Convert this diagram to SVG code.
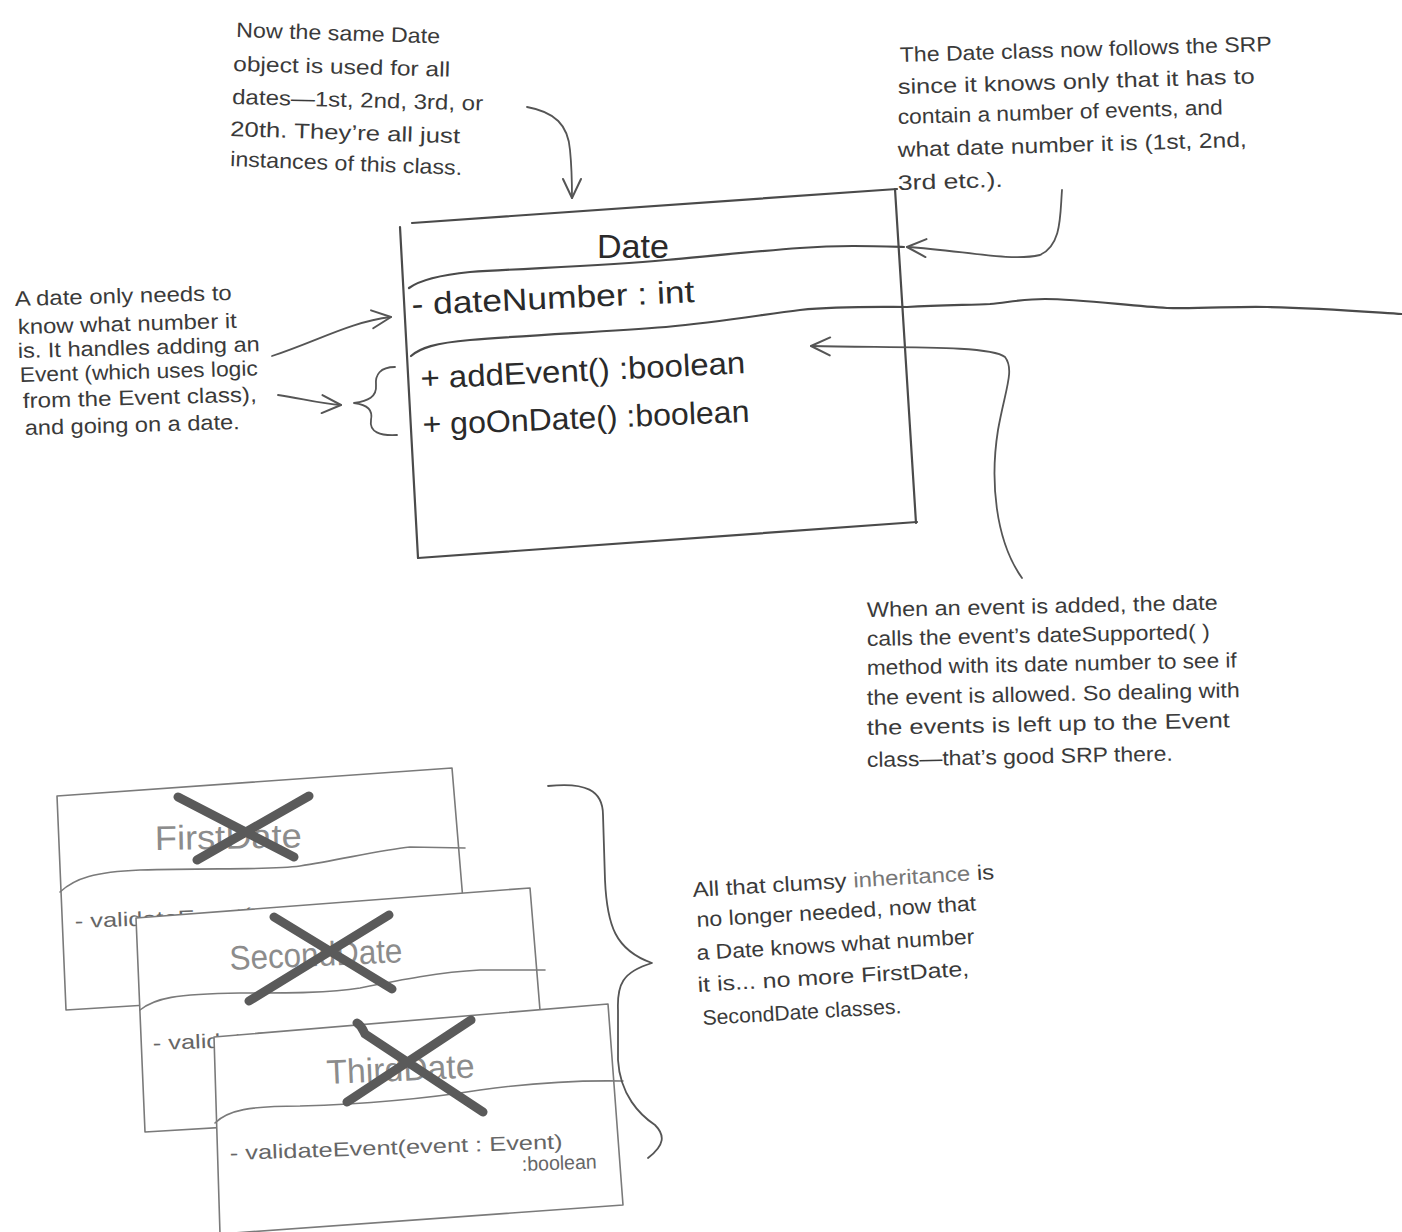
<svg xmlns="http://www.w3.org/2000/svg" width="1402" height="1232" viewBox="0 0 1402 1232">
<style>
text { font-family: "Liberation Sans", Arial, sans-serif; fill: #333; }
.note { font-size: 21px; fill: #3a3a3a; }
.member { font-size: 31px; fill: #2a2a2a; }
.title { font-size: 34px; fill: #2a2a2a; }
.line { fill: none; stroke: #4a4a4a; stroke-width: 2.2; stroke-linecap: round; stroke-linejoin: round; }
.old { fill: #fff; stroke: #7a7a7a; stroke-width: 1.6; stroke-linejoin: round; }
.oldline { fill: none; stroke: #7a7a7a; stroke-width: 1.6; stroke-linecap: round; }
.oldname { font-size: 34px; fill: #8c8c8c; }
.oldmember { font-size: 20px; fill: #666; }
.cross { fill: none; stroke: #5a5a5a; stroke-width: 9; stroke-linecap: round; }
.conn { fill: none; stroke: #555; stroke-width: 1.8; stroke-linecap: round; stroke-linejoin: round; }
</style>
<defs>
<marker id="vee" markerUnits="userSpaceOnUse" viewBox="0 0 24 24" refX="22" refY="12" markerWidth="24" markerHeight="24" orient="auto">
<path d="M3,3 L22,12 L3,21" fill="none" stroke="#555" stroke-width="2" stroke-linecap="round" stroke-linejoin="round"/>
</marker>
</defs>
<rect x="0" y="0" width="1402" height="1232" fill="#ffffff"/>

<g id="date-class">
<path class="line" d="M400,227 L418,558"/>
<path class="line" d="M412,223 L897,189"/>
<path class="line" d="M895,189 L916,523"/>
<path class="line" d="M418,558 L917,522"/>
<path class="line" d="M409,288 C420,280 440,275 470,272 C530,268 600,266 666,260 C720,255 760,251 800,248 C840,245 870,246 904,247"/>
<path class="line" d="M411,356 C420,348 435,343 470,340 C530,335 600,332 666,327 C720,322 760,315 800,310 C840,306 880,307 907,307"/>
<text class="title" x="597" y="258" textLength="72" lengthAdjust="spacingAndGlyphs">Date</text>
<text class="member" x="412" y="315" transform="rotate(-2.6 412 315)" textLength="283" lengthAdjust="spacingAndGlyphs">- dateNumber : int</text>
<text class="member" x="421" y="389" transform="rotate(-2.8 421 389)" textLength="325" lengthAdjust="spacingAndGlyphs">+ addEvent() :boolean</text>
<text class="member" x="423" y="435" transform="rotate(-2.3 423 435)" textLength="327" lengthAdjust="spacingAndGlyphs">+ goOnDate() :boolean</text>
</g>

<g id="first-date">
<polygon class="old" points="57,796 452,768 470,985 66,1010"/>
<path class="oldline" d="M60,892 C75,878 95,872 140,870 C220,868 270,870 300,866 C340,860 380,850 410,847 L465,848"/>
<text class="oldname" x="155" y="850" transform="rotate(-1 155 850)" textLength="147" lengthAdjust="spacingAndGlyphs">FirstDate</text>
<text class="oldmember" x="75" y="928" transform="rotate(-2 75 928)" textLength="333" lengthAdjust="spacingAndGlyphs">- validateEvent(event : Event)</text>
<path class="cross" d="M178,797 L294,857 M309,796 L197,860"/>
</g>

<g id="second-date">
<polygon class="old" points="136,918 530,888 548,1108 145,1132"/>
<path class="oldline" d="M140,1010 C155,998 175,994 240,993 C290,993 330,993 360,988 C400,980 440,972 480,970 L545,970"/>
<text class="oldname" x="230" y="970" transform="rotate(-2.6 230 970)" textLength="173" lengthAdjust="spacingAndGlyphs">SecondDate</text>
<text class="oldmember" x="153" y="1050" transform="rotate(-2 153 1050)" textLength="333" lengthAdjust="spacingAndGlyphs">- validateEvent(event : Event)</text>
<path class="cross" d="M274,917 L392,989 M389,915 L249,1001"/>
</g>

<g id="third-date">
<polygon class="old" points="214,1037 608,1004 623,1205 220,1234"/>
<path class="oldline" d="M215,1123 C228,1110 250,1106 300,1106 C370,1104 430,1098 480,1090 C530,1083 570,1080 623,1081"/>
<text class="oldname" x="327" y="1084" transform="rotate(-2.5 327 1084)" textLength="148" lengthAdjust="spacingAndGlyphs">ThirdDate</text>
<text class="oldmember" x="230" y="1160" transform="rotate(-2 230 1160)" textLength="333" lengthAdjust="spacingAndGlyphs">- validateEvent(event : Event)</text>
<text class="oldmember" x="522" y="1171" transform="rotate(-2 522 1171)" textLength="75" lengthAdjust="spacingAndGlyphs">:boolean</text>
<path class="cross" d="M357,1023 C362,1026 363,1030 365,1034 L483,1112 M471,1020 L347,1102"/>
</g>

<g id="note-same-object">
<text class="note" x="236" y="37" transform="rotate(1.8 236 37)" textLength="204" lengthAdjust="spacingAndGlyphs">Now the same Date</text>
<text class="note" x="233" y="71" transform="rotate(1.5 233 71)" textLength="217" lengthAdjust="spacingAndGlyphs">object is used for all</text>
<text class="note" x="232" y="104" transform="rotate(1.5 232 104)" textLength="251" lengthAdjust="spacingAndGlyphs">dates—1st, 2nd, 3rd, or</text>
<text class="note" x="230" y="136" transform="rotate(1.8 230 136)" textLength="230" lengthAdjust="spacingAndGlyphs">20th. They’re all just</text>
<text class="note" x="230" y="166" transform="rotate(2.2 230 166)" textLength="232" lengthAdjust="spacingAndGlyphs">instances of this class.</text>
</g>

<g id="note-srp">
<text class="note" x="900" y="62" transform="rotate(-1.7 900 62)" textLength="372" lengthAdjust="spacingAndGlyphs">The Date class now follows the SRP</text>
<text class="note" x="898" y="94" transform="rotate(-1.7 898 94)" textLength="357" lengthAdjust="spacingAndGlyphs">since it knows only that it has to</text>
<text class="note" x="898" y="124" transform="rotate(-1.7 898 124)" textLength="325" lengthAdjust="spacingAndGlyphs">contain a number of events, and</text>
<text class="note" x="898" y="157" transform="rotate(-1.7 898 157)" textLength="349" lengthAdjust="spacingAndGlyphs">what date number it is (1st, 2nd,</text>
<text class="note" x="898" y="190" transform="rotate(-1.7 898 190)" textLength="105" lengthAdjust="spacingAndGlyphs">3rd etc.).</text>
</g>

<g id="note-date-number">
<text class="note" x="15" y="306" transform="rotate(-1.6 15 306)" textLength="217" lengthAdjust="spacingAndGlyphs">A date only needs to</text>
<text class="note" x="18" y="334" transform="rotate(-1.6 18 334)" textLength="219" lengthAdjust="spacingAndGlyphs">know what number it</text>
<text class="note" x="18" y="358" transform="rotate(-1.6 18 358)" textLength="242" lengthAdjust="spacingAndGlyphs">is. It handles adding an</text>
<text class="note" x="20" y="382" transform="rotate(-1.6 20 382)" textLength="238" lengthAdjust="spacingAndGlyphs">Event (which uses logic</text>
<text class="note" x="23" y="408" transform="rotate(-1.6 23 408)" textLength="234" lengthAdjust="spacingAndGlyphs">from the Event class),</text>
<text class="note" x="25" y="435" transform="rotate(-1.6 25 435)" textLength="215" lengthAdjust="spacingAndGlyphs">and going on a date.</text>
</g>

<g id="note-event-added">
<text class="note" x="867" y="617" transform="rotate(-1.2 867 617)" textLength="351" lengthAdjust="spacingAndGlyphs">When an event is added, the date</text>
<text class="note" x="867" y="646" transform="rotate(-1.2 867 646)" textLength="343" lengthAdjust="spacingAndGlyphs">calls the event’s dateSupported( )</text>
<text class="note" x="867" y="675" transform="rotate(-1.2 867 675)" textLength="370" lengthAdjust="spacingAndGlyphs">method with its date number to see if</text>
<text class="note" x="867" y="705" transform="rotate(-1.2 867 705)" textLength="373" lengthAdjust="spacingAndGlyphs">the event is allowed. So dealing with</text>
<text class="note" x="867" y="735" transform="rotate(-1.2 867 735)" textLength="363" lengthAdjust="spacingAndGlyphs">the events is left up to the Event</text>
<text class="note" x="867" y="767" transform="rotate(-1.2 867 767)" textLength="306" lengthAdjust="spacingAndGlyphs">class—that’s good SRP there.</text>
</g>

<g id="note-inheritance">
<text class="note" x="693" y="897" transform="rotate(-3.4 693 897)" textLength="302" lengthAdjust="spacingAndGlyphs">All that clumsy <tspan fill="#777">inheritance</tspan> is</text>
<text class="note" x="697" y="927" transform="rotate(-3.4 697 927)" textLength="280" lengthAdjust="spacingAndGlyphs">no longer needed, now that</text>
<text class="note" x="697" y="960" transform="rotate(-3.4 697 960)" textLength="278" lengthAdjust="spacingAndGlyphs">a Date knows what number</text>
<text class="note" x="698" y="992" transform="rotate(-3.4 698 992)" textLength="272" lengthAdjust="spacingAndGlyphs">it is... no more FirstDate,</text>
<text class="note" x="703" y="1025" transform="rotate(-3.4 703 1025)" textLength="199" lengthAdjust="spacingAndGlyphs">SecondDate classes.</text>
</g>

<g id="connectors">
<path class="conn" marker-end="url(#vee)" d="M527,107 C555,112 568,125 570,150 C572,170 572,185 572,198"/>
<path class="conn" marker-end="url(#vee)" d="M1062,190 C1060,215 1062,245 1040,255 C1010,262 960,250 907,247"/>
<path class="conn" marker-end="url(#vee)" d="M272,356 C320,340 350,322 391,317"/>
<path class="conn" marker-end="url(#vee)" d="M278,395 C300,398 320,404 341,405"/>
<path class="conn" d="M395,367 C380,367 375,375 376,385 C377,397 368,401 354,403 C368,405 373,410 371,420 C369,432 380,436 397,435"/>
<path class="conn" marker-end="url(#vee)" d="M1022,578 C995,540 990,480 998,430 C1005,390 1015,370 1005,357 C990,345 900,348 811,346"/>
<path class="line" d="M907,307 C940,305 970,305 990,304 C1010,302 1025,299 1045,299 C1080,299 1130,306 1167,308 C1200,309 1240,306 1267,307 C1320,308 1370,312 1402,314"/>
<path class="conn" d="M548,786 C585,782 603,790 603,815 L605,880 C607,925 615,950 652,963 C622,972 617,985 618,1010 L618,1060 C620,1095 640,1115 655,1125 C665,1135 665,1145 648,1158"/>
</g>
</svg>
